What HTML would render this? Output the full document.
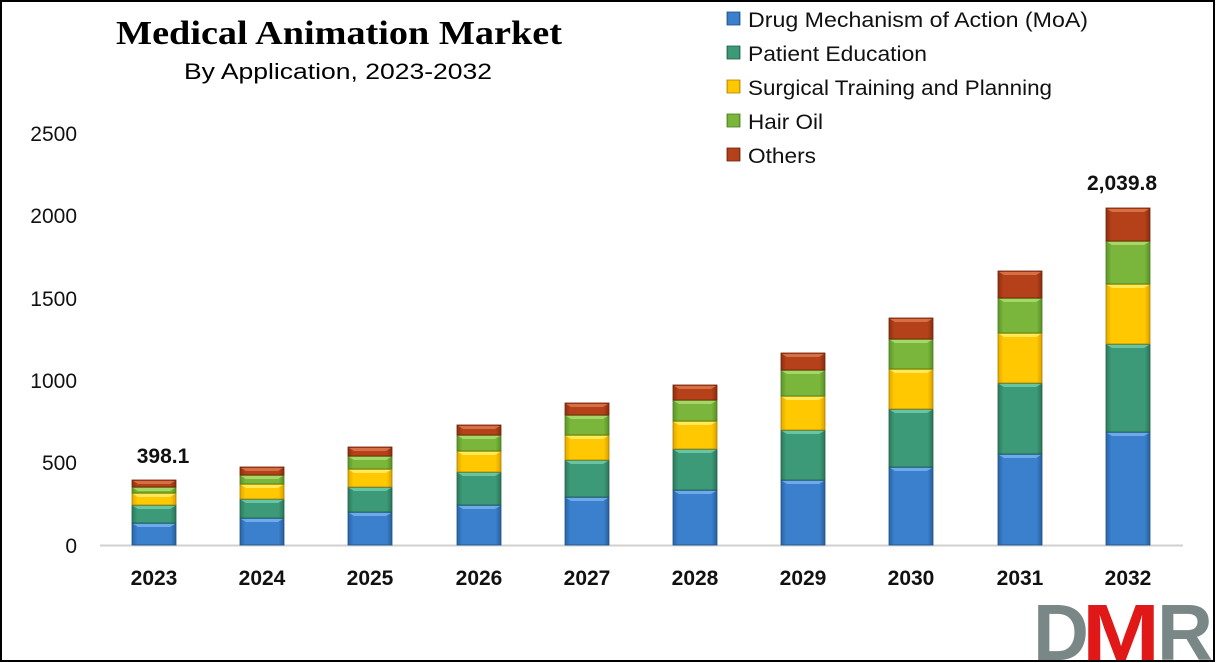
<!DOCTYPE html>
<html><head><meta charset="utf-8"><style>
html,body{margin:0;padding:0;background:#fff;overflow:hidden}
svg{display:block}
</style></head><body>
<svg width="1216" height="663" viewBox="0 0 1216 663" xmlns="http://www.w3.org/2000/svg">
<defs>
<linearGradient id="gb" x1="0" x2="1"><stop offset="0" stop-color="#2a64a8"/><stop offset="0.12" stop-color="#3a80cc"/><stop offset="0.88" stop-color="#3a80cc"/><stop offset="1" stop-color="#285f9e"/></linearGradient>
<linearGradient id="gt" x1="0" x2="1"><stop offset="0" stop-color="#2a7a5c"/><stop offset="0.12" stop-color="#3d9a78"/><stop offset="0.88" stop-color="#3d9a78"/><stop offset="1" stop-color="#2a7458"/></linearGradient>
<linearGradient id="gy" x1="0" x2="1"><stop offset="0" stop-color="#e0a800"/><stop offset="0.12" stop-color="#ffc800"/><stop offset="0.88" stop-color="#ffc800"/><stop offset="1" stop-color="#d9a000"/></linearGradient>
<linearGradient id="gg" x1="0" x2="1"><stop offset="0" stop-color="#5c9528"/><stop offset="0.12" stop-color="#7ab53c"/><stop offset="0.88" stop-color="#7ab53c"/><stop offset="1" stop-color="#5a8f26"/></linearGradient>
<linearGradient id="gr" x1="0" x2="1"><stop offset="0" stop-color="#8e2f10"/><stop offset="0.12" stop-color="#b4411a"/><stop offset="0.88" stop-color="#b4411a"/><stop offset="1" stop-color="#8a2d0f"/></linearGradient>
</defs>
<rect x="1" y="1" width="1213" height="660" fill="#fff" stroke="#000" stroke-width="2"/>
<text x="116" y="44" font-family="Liberation Serif, serif" font-weight="bold" font-size="34" textLength="446" lengthAdjust="spacingAndGlyphs">Medical Animation  Market</text>
<text x="184" y="79" font-family="Liberation Sans, sans-serif" font-size="22" textLength="308" lengthAdjust="spacingAndGlyphs">By Application, 2023-2032</text>
<g font-family="Liberation Sans, sans-serif" font-size="21" fill="#111">
<rect x="727" y="12" width="13" height="13" fill="url(#gb)" stroke="#1f4f85" stroke-width="0.8"/><text x="748" y="27" textLength="340" lengthAdjust="spacingAndGlyphs">Drug Mechanism of Action (MoA)</text>
<rect x="727" y="46" width="13" height="13" fill="url(#gt)" stroke="#226048" stroke-width="0.8"/><text x="748" y="61" textLength="179" lengthAdjust="spacingAndGlyphs">Patient Education</text>
<rect x="727" y="80" width="13" height="13" fill="url(#gy)" stroke="#b08000" stroke-width="0.8"/><text x="748" y="95" textLength="304" lengthAdjust="spacingAndGlyphs">Surgical Training and Planning</text>
<rect x="727" y="114" width="13" height="13" fill="url(#gg)" stroke="#4a7a20" stroke-width="0.8"/><text x="748" y="129" textLength="75" lengthAdjust="spacingAndGlyphs">Hair Oil</text>
<rect x="727" y="148" width="13" height="13" fill="url(#gr)" stroke="#702408" stroke-width="0.8"/><text x="748" y="163" textLength="68" lengthAdjust="spacingAndGlyphs">Others</text>
</g>
<g font-family="Liberation Sans, sans-serif" font-size="21" fill="#111" text-anchor="end">
<text x="77" y="141">2500</text><text x="77" y="223">2000</text><text x="77" y="306">1500</text><text x="77" y="388">1000</text><text x="77" y="470">500</text><text x="77" y="553">0</text>
</g>
<line x1="100" y1="545.5" x2="1183" y2="545.5" stroke="#d0d0d0" stroke-width="2"/>
<g id="bars" stroke-width="0.8">
</g>
<g font-family="Liberation Sans, sans-serif" font-size="21" font-weight="bold" fill="#111" text-anchor="middle">
<text x="154" y="585">2023</text><text x="262" y="585">2024</text><text x="370" y="585">2025</text><text x="479" y="585">2026</text><text x="587" y="585">2027</text><text x="695" y="585">2028</text><text x="803" y="585">2029</text><text x="911" y="585">2030</text><text x="1020" y="585">2031</text><text x="1128" y="585">2032</text>
<text x="163" y="463">398.1</text><text x="1122" y="190">2,039.8</text>
</g>
<g font-family="Liberation Sans, sans-serif" font-weight="bold" font-size="80">
<text x="1033" y="660" fill="#7a8787" textLength="56" lengthAdjust="spacingAndGlyphs">D</text>
<text x="1082" y="660" fill="#e01818" textLength="78" lengthAdjust="spacingAndGlyphs">M</text>
<text x="1157" y="660" fill="#7a8787" textLength="56" lengthAdjust="spacingAndGlyphs">R</text>
</g>
<rect x="1" y="1" width="1213" height="660" fill="none" stroke="#000" stroke-width="2"/>
</svg>
<script>
var data=[[154,[545,523,505,493,487,480]],[262,[545,518,499,484,475,467]],[370,[545,512,487,469,456,447]],[479,[545,505,472,451,435,425]],[587,[545,497,460,435,415,403]],[695,[545,490,449,421,400,385]],[803,[545,480,430,396,370,353]],[911,[545,467,409,369,339,318]],[1020,[545,454,383,333,298,271]],[1128,[545,432,344,284,241,208]]];
var f=['gb','gt','gy','gg','gr'],s=['#1f4f85','#226048','#b08000','#4a7a20','#702408'],h=['#7ab4ee','#6fd0b0','#fff070','#b0e070','#e07a50'];
var out='';
data.forEach(function(d){var x=d[0]-22;for(var i=0;i<5;i++){var y=d[1][i+1],hh=d[1][i]-y;out+='<rect x="'+x+'" y="'+y+'" width="44" height="'+hh+'" fill="url(#'+f[i]+')" stroke="'+s[i]+'"/>';out+='<polygon points="'+(x+1)+','+(y+1)+' '+(x+43)+','+(y+1)+' '+(x+38)+','+(y+4)+' '+(x+6)+','+(y+4)+'" fill="'+h[i]+'" opacity="0.8"/>';}});
document.getElementById('bars').innerHTML=out;
</script>
</body></html>
